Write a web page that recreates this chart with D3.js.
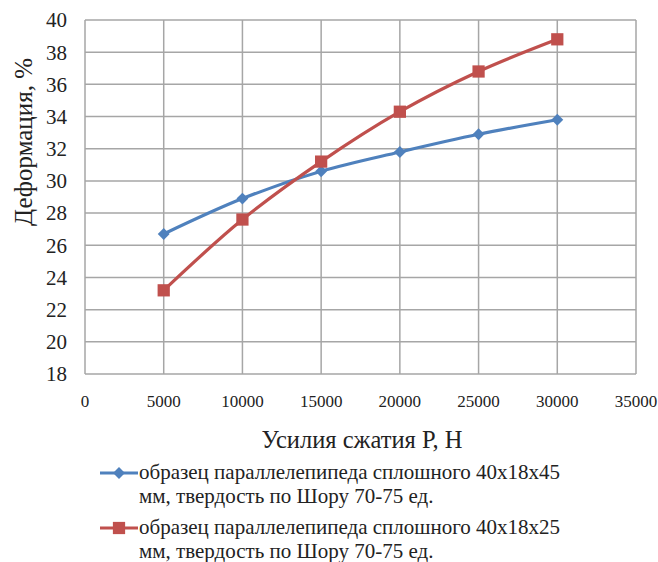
<!DOCTYPE html>
<html>
<head>
<meta charset="utf-8">
<script src="https://cdn.jsdelivr.net/npm/d3@7"></script>
<style>
  body { margin: 0; background: #fff; }
  svg text { font-family: "Liberation Serif", "DejaVu Serif", serif; fill: #222; }
</style>
</head>
<body>
<svg id="chart"></svg>
<script>
const forces = [5000, 10000, 15000, 20000, 25000, 30000];
const seriesA = [26.7, 28.9, 30.6, 31.8, 32.9, 33.8];
const seriesB = [23.2, 27.6, 31.2, 34.3, 36.8, 38.8];
const xTicks = [0, 5000, 10000, 15000, 20000, 25000, 30000, 35000];
const yTicks = [18, 20, 22, 24, 26, 28, 30, 32, 34, 36, 38, 40];
const legendLabels = [
  ["образец параллелепипеда сплошного 40x18x45", "мм, твердость по Шору 70-75 ед."],
  ["образец параллелепипеда сплошного 40x18x25", "мм, твердость по Шору 70-75 ед."]
];
const colors = ["#4f81bd", "#c0504d"];

const width = 658, height = 562;
const plot = { left: 85, top: 20, right: 636, bottom: 374 };
const serif = '"Liberation Serif", "DejaVu Serif", serif';

const svg = d3.select("#chart")
  .attr("width", width)
  .attr("height", height)
  .attr("font-family", serif);

const x = d3.scaleLinear().domain([0, 35000]).range([plot.left, plot.right]);
const y = d3.scaleLinear().domain([18, 40]).range([plot.bottom, plot.top]);

// grid
svg.append("g")
  .selectAll("line")
  .data(yTicks)
  .join("line")
  .attr("x1", plot.left).attr("x2", plot.right)
  .attr("y1", (d) => y(d)).attr("y2", (d) => y(d))
  .attr("stroke", "#a6a6a6").attr("stroke-width", 1.5);

svg.append("g")
  .selectAll("line")
  .data(xTicks)
  .join("line")
  .attr("x1", (d) => x(d)).attr("x2", (d) => x(d))
  .attr("y1", plot.top).attr("y2", plot.bottom)
  .attr("stroke", "#a6a6a6").attr("stroke-width", 1.5);

// tick labels
svg.append("g")
  .selectAll("text")
  .data(yTicks)
  .join("text")
  .attr("x", 67)
  .attr("y", (d) => y(d))
  .attr("dy", "0.35em")
  .attr("text-anchor", "end")
  .style("font-size", "21px")
  .text((d) => d);

svg.append("g")
  .selectAll("text")
  .data(xTicks)
  .join("text")
  .attr("x", (d) => x(d))
  .attr("y", 407)
  .attr("text-anchor", "middle")
  .style("font-size", "17px")
  .text((d) => d);

// axis titles
svg.append("text")
  .attr("x", 362).attr("y", 448)
  .attr("text-anchor", "middle")
  .style("font-size", "24.5px")
  .text("Усилия сжатия Р, Н");

svg.append("text")
  .attr("transform", "translate(32,142) rotate(-90)")
  .attr("text-anchor", "middle")
  .style("font-size", "25px")
  .text("Деформация, %");

// series
const line = d3.line()
  .x((d) => x(d[0]))
  .y((d) => y(d[1]))
  .curve(d3.curveCatmullRom.alpha(0.5));

const series = [seriesA, seriesB].map((vals) => forces.map((f, i) => [f, vals[i]]));

series.forEach((pts, k) => {
  svg.append("path")
    .datum(pts)
    .attr("d", line)
    .attr("fill", "none")
    .attr("stroke", colors[k])
    .attr("stroke-width", 3.2);
});

const diamond = d3.symbol().type(d3.symbolDiamond2).size(90);
const square = d3.symbol().type(d3.symbolSquare).size(150);

svg.append("g")
  .selectAll("path")
  .data(series[0])
  .join("path")
  .attr("transform", (d) => `translate(${x(d[0])},${y(d[1])})`)
  .attr("d", diamond)
  .attr("fill", colors[0]);

svg.append("g")
  .selectAll("path")
  .data(series[1])
  .join("path")
  .attr("transform", (d) => `translate(${x(d[0])},${y(d[1])})`)
  .attr("d", square)
  .attr("fill", colors[1]);

// legend
const legend = svg.append("g");
const legendY = [473, 528];
legendLabels.forEach((lines, k) => {
  const g = legend.append("g").attr("transform", `translate(0,${legendY[k]})`);
  g.append("line")
    .attr("x1", 100).attr("x2", 138)
    .attr("stroke", colors[k]).attr("stroke-width", 3.2);
  g.append("path")
    .attr("transform", "translate(119,0)")
    .attr("d", k === 0 ? diamond : square)
    .attr("fill", colors[k]);
  g.append("text")
    .attr("x", 139).attr("y", 6)
    .style("font-size", "21px")
    .text(lines[0]);
  g.append("text")
    .attr("x", 139).attr("y", 30)
    .style("font-size", "21px")
    .text(lines[1]);
});
</script>
</body>
</html>
